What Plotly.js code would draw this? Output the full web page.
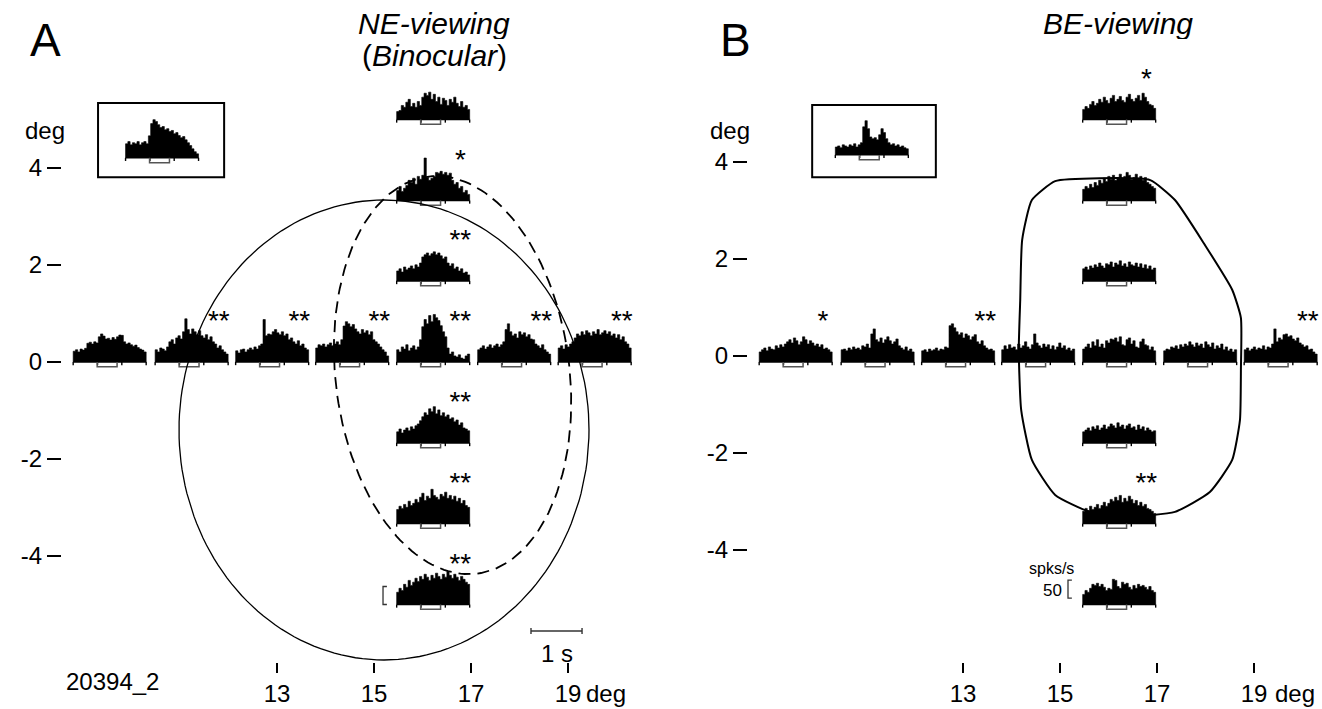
<!DOCTYPE html>
<html><head><meta charset="utf-8">
<script src="https://cdn.plot.ly/plotly-3.0.1.min.js"></script>
<style>html,body{margin:0;padding:0;background:#fff}</style>
</head><body><div id="chart" style="width:1322px;height:709px"></div>
<script>
// ---------------- DATA ----------------
// stimulus positions (deg)
const rowPosDeg = [9.55, 11.24, 12.9, 14.55, 16.22, 17.89, 19.55]; // along y = 0
const colPosDeg = [5.0, 3.33, 1.67, -1.67, -3.33, -5.0];         // along x = colX
const colXDeg = 16.22;
const xTickVals = [13, 15, 17, 19];
const yTickVals = [-4, -2, 0, 2, 4];
const yTickText = ['-4', '-2', '0', '2', '4'];

// PSTHs, spikes/s, 32 bins each
const neInset = [39,45,36,42,39,45,36,42,45,39,61,95,106,101,92,84,87,78,81,73,76,67,70,62,56,59,50,42,34,25,17,11];
const neRow = [
  [30,34,28,36,33,38,52,55,50,56,53,70,78,72,64,66,61,68,63,70,75,74,56,50,53,48,44,47,40,36,33,28],
  [34,28,39,36,31,42,56,62,50,67,73,64,84,120,90,78,92,84,76,87,73,67,76,62,70,56,50,39,45,34,28,22],
  [31,25,34,36,28,34,39,34,42,36,45,50,118,73,78,76,84,90,81,76,84,73,78,62,67,56,50,59,45,50,39,34],
  [39,48,45,50,42,48,53,45,50,56,48,62,100,112,106,98,104,92,84,78,90,81,87,76,84,62,56,50,42,34,28,17],
  [34,28,42,36,48,31,39,45,34,42,62,98,118,106,129,112,132,123,115,101,84,70,39,22,28,17,14,20,11,8,17,22],
  [34,39,45,36,42,48,39,45,50,42,48,56,90,106,84,73,78,67,84,76,81,70,76,64,62,50,45,39,48,34,28,22],
  [39,45,36,48,42,50,56,67,78,73,84,76,87,81,73,84,78,90,76,81,87,78,84,73,78,67,76,62,70,56,50,39]
];
const neCol = [
  [22,25,39,34,48,56,36,45,34,50,39,62,73,67,76,56,70,50,62,42,59,53,39,56,48,62,45,36,50,34,39,28],
  [28,39,25,34,42,56,50,62,45,67,59,70,118,64,56,62,67,78,76,81,73,78,70,76,56,45,50,34,39,22,28,17],
  [28,34,25,39,31,36,42,34,45,39,50,67,73,78,70,76,81,73,78,70,62,67,50,42,48,34,39,28,34,22,25,17],
  [31,39,28,36,42,34,45,39,48,53,62,73,84,78,95,87,101,81,92,76,84,73,78,67,70,59,64,50,56,42,39,34],
  [39,48,42,53,45,62,50,56,67,59,73,84,64,76,70,95,78,73,67,81,76,87,70,78,67,76,62,70,56,64,50,45],
  [34,45,39,56,48,67,53,62,73,64,78,70,84,76,67,81,73,87,78,70,84,76,92,81,73,84,76,67,78,70,62,56]
];
const beInset = [22,25,20,28,25,22,28,25,31,22,28,34,78,95,73,50,45,48,42,56,73,62,45,34,28,31,25,28,22,25,20,17];
const beRow = [
  [28,34,39,31,42,36,34,45,39,48,42,50,56,62,53,67,59,48,56,70,62,50,59,53,45,50,42,48,36,39,34,28],
  [34,36,31,39,34,42,36,39,34,45,42,50,39,78,92,62,56,67,53,62,70,59,50,56,64,45,39,34,42,31,36,28],
  [31,34,28,36,31,34,39,31,36,34,42,39,101,106,95,84,76,81,67,78,73,62,70,76,56,50,59,45,39,34,36,31],
  [34,45,36,48,39,42,34,50,39,45,56,42,36,48,78,53,45,39,50,42,48,36,45,34,42,53,39,45,34,39,31,36],
  [36,42,50,39,56,45,62,42,50,39,59,53,64,62,67,56,70,48,45,62,67,50,59,42,39,56,64,48,45,34,42,31],
  [31,36,34,42,39,45,36,48,42,50,45,56,48,42,53,45,50,39,56,48,42,53,36,45,39,50,34,42,31,36,28,34],
  [34,39,31,36,42,34,39,36,45,34,42,39,50,92,56,67,62,76,78,70,73,64,59,67,53,48,42,45,34,36,28,22]
];
const beCol = [
  [28,36,31,42,50,39,45,56,48,62,53,45,59,67,50,56,64,53,48,62,70,56,50,59,67,53,73,62,50,42,39,31],
  [31,39,34,45,36,50,42,56,48,62,53,67,59,70,56,64,73,62,67,78,70,59,64,73,62,67,56,64,50,45,39,34],
  [34,39,31,42,36,45,39,50,42,36,48,45,53,39,50,45,56,42,48,39,53,45,42,50,39,48,36,45,34,42,31,36],
  [31,36,42,34,45,39,48,36,42,50,39,45,53,48,42,56,45,50,39,48,53,42,45,36,50,39,45,34,42,36,31,34],
  [34,42,36,48,39,45,53,42,50,59,48,56,67,62,73,64,78,59,70,62,76,67,56,64,50,59,48,53,42,39,34,28],
  [28,39,34,45,56,53,59,50,56,48,39,45,42,70,67,50,45,62,56,59,48,42,53,45,56,50,53,48,42,50,39,34]
];
// significance marks
const neRowSig = ['', '**', '**', '**', '**', '**', '**'];
const neColSig = ['', '*', '**', '**', '**', '**'];
const beRowSig = ['*', '', '**', '', '', '', '**'];
const beColSig = ['*', '', '', '', '**', ''];
// insets: [center x, baseline y] and box [x0, x1, y0, y1] in deg
const neInsetPos = [10.63, 4.21];
const beInsetPos = [11.12, 4.27];
const neInsetBox = [9.31, 11.91, 3.81, 5.34];
const beInsetBox = [9.89, 12.44, 3.81, 5.30];
// receptive field outlines
const neSolidRF = [15.206, -1.402, 4.227, 4.742, 0];     // cx, cy, rx, ry, tilt(deg)
const neDashedRF = [16.62, -0.27, 2.412, 4.124, 7];      // cx, cy, rx, ry, tilt(deg)
const beOutlineX = [14.18,14.22,14.42,14.90,15.82,16.86,17.37,17.99,18.55,18.73,18.73,18.71,18.55,18.09,17.37,16.44,15.62,14.90,14.42,14.20,14.15,14.18];
const beOutlineY = [1.28,2.52,3.34,3.73,3.79,3.75,3.34,2.41,1.49,0.91,-0.17,-1.20,-2.02,-2.68,-3.09,-3.18,-3.09,-2.74,-2.02,-0.99,0.25,1.28];
// scale bars
const timeBar = [18.237, -5.546, 1];       // x0, y, seconds
const rateBarNE = [15.186, -5.0, 50];      // x, y0, spikes/s
const rateBarBE = [15.165, -4.87, 50];

// ---------------- GEOMETRY CONSTANTS ----------------
const DEG_PER_SPK = 0.36 / 48.5;
const HIST_DUR = 1.43;
const DEG_PER_SEC = 1.505 / 1.43;
const BASE_TICKS = [0, 0.477, 0.953, 1.43];
const STIM_ON = [0.47, 0.86];

function histTraces(list, xa, ya) {
  const fx = [], fy = [], bx = [], by = [], sx = [], sy = [], tx = [], ty = [], tt = [];
  const w = HIST_DUR * DEG_PER_SEC;
  list.forEach(h => {
    const n = h.rates.length, bw = w / n, x0 = h.cx - w / 2, b = h.base;
    fx.push(x0); fy.push(b);
    h.rates.forEach((r, i) => {
      const top = b + r * DEG_PER_SPK;
      fx.push(x0 + i * bw, x0 + (i + 1) * bw); fy.push(top, top);
    });
    fx.push(x0 + w, null); fy.push(b, null);
    bx.push(x0, x0 + w, null); by.push(b, b, null);
    BASE_TICKS.forEach(t => { const xx = x0 + t * DEG_PER_SEC; bx.push(xx, xx, null); by.push(b, b - 0.065, null); });
    const s0 = x0 + STIM_ON[0] * DEG_PER_SEC, s1 = x0 + STIM_ON[1] * DEG_PER_SEC;
    sx.push(s0, s0, s1, s1, null); sy.push(b, b - 0.1, b - 0.1, b, null);
    if (h.sig) { tx.push(h.cx + 0.56); ty.push(b + 0.8); tt.push(h.sig); }
  });
  const common = {xaxis: xa, yaxis: ya, hoverinfo: 'skip', cliponaxis: false, showlegend: false};
  return [
    Object.assign({type: 'scatter', mode: 'lines', x: fx, y: fy, fill: 'toself', fillcolor: '#000', line: {color: '#000', width: 0.6}}, common),
    Object.assign({type: 'scatter', mode: 'lines', x: bx, y: by, line: {color: '#000', width: 1.4}}, common),
    Object.assign({type: 'scatter', mode: 'lines', x: sx, y: sy, line: {color: '#555', width: 1.5}}, common),
    Object.assign({type: 'scatter', mode: 'text', x: tx, y: ty, text: tt, textposition: 'middle center', textfont: {size: 28, color: '#000', family: 'Liberation Sans, Arial, sans-serif'}}, common)
  ];
}

function ellipse(p, xa, ya, dash, width) {
  const [cx, cy, rx, ry, tilt] = p, th = tilt * Math.PI / 180;
  const xs = [], ys = [];
  for (let k = 0; k <= 180; k++) {
    const t = 2 * Math.PI * k / 180;
    const ex = rx * Math.cos(t), ey = ry * Math.sin(t);
    xs.push(cx + ex * Math.cos(th) - ey * Math.sin(th));
    ys.push(cy + ex * Math.sin(th) + ey * Math.cos(th));
  }
  return {type: 'scatter', mode: 'lines', x: xs, y: ys, xaxis: xa, yaxis: ya, line: {color: '#000', width: width, dash: dash}, hoverinfo: 'skip', cliponaxis: false};
}

const neList = rowPosDeg.map((x, i) => ({cx: x, base: 0, rates: neRow[i], sig: neRowSig[i]}))
  .concat(colPosDeg.map((y, i) => ({cx: colXDeg, base: y, rates: neCol[i], sig: neColSig[i]})))
  .concat([{cx: neInsetPos[0], base: neInsetPos[1], rates: neInset, sig: ''}]);
const beList = rowPosDeg.map((x, i) => ({cx: x, base: 0, rates: beRow[i], sig: beRowSig[i]}))
  .concat(colPosDeg.map((y, i) => ({cx: colXDeg, base: y, rates: beCol[i], sig: beColSig[i]})))
  .concat([{cx: beInsetPos[0], base: beInsetPos[1], rates: beInset, sig: ''}]);

function rateBar(r, xa, ya) {
  const [x, y0, v] = r, y1 = y0 + v * DEG_PER_SPK;
  return {type: 'scatter', mode: 'lines', x: [x + 0.08, x, x, x + 0.08], y: [y0, y0, y1, y1], xaxis: xa, yaxis: ya, line: {color: '#333', width: 1.3}, hoverinfo: 'skip', cliponaxis: false};
}
const tb = timeBar, tbx1 = tb[0] + tb[2] * DEG_PER_SEC;

const traces = []
  .concat(histTraces(neList, 'x', 'y'))
  .concat(histTraces(beList, 'x2', 'y2'))
  .concat([
    ellipse(neSolidRF, 'x', 'y', 'solid', 1.3),
    ellipse(neDashedRF, 'x', 'y', '12px,7px', 1.8),
    {type: 'scatter', mode: 'lines', x: beOutlineX, y: beOutlineY, xaxis: 'x2', yaxis: 'y2', line: {color: '#000', width: 2, shape: 'spline', smoothing: 0.5}, hoverinfo: 'skip', cliponaxis: false},
    rateBar(rateBarNE, 'x', 'y'),
    rateBar(rateBarBE, 'x2', 'y2'),
    {type: 'scatter', mode: 'lines', x: [tb[0], tb[0], null, tb[0], tbx1, null, tbx1, tbx1], y: [tb[1] - 0.06, tb[1] + 0.06, null, tb[1], tb[1], null, tb[1] - 0.06, tb[1] + 0.06], xaxis: 'x', yaxis: 'y', line: {color: '#333', width: 1.4}, hoverinfo: 'skip', cliponaxis: false},
    {type: 'scatter', mode: 'markers', x: [10], y: [0], xaxis: 'x2', yaxis: 'y3', marker: {opacity: 0}, hoverinfo: 'skip'}
  ]);

const W = 1322, H = 709;
const px = v => v / W, py = v => 1 - v / H;
const FONT = 'Liberation Sans, Arial, Helvetica, sans-serif';
const BOTTOM = 662, TOP = 70;
const yDom = [py(BOTTOM), py(TOP)];
const yRange = [(362 - BOTTOM) / 48.5, (362 - TOP) / 48.5];
const xAx = (dom, rng, anchor) => ({domain: dom, range: rng, anchor: anchor, tickvals: xTickVals, ticktext: xTickVals.map(String),
  ticks: 'outside', ticklen: 10, tickwidth: 1.3, tickcolor: '#000', showgrid: false, zeroline: false, showline: false,
  tickfont: {size: 24, family: FONT, color: '#000'}, fixedrange: true});
const yAx = (rng, anchor) => ({domain: yDom, range: rng, anchor: anchor, tickvals: yTickVals, ticktext: yTickText,
  ticks: 'outside', ticklen: 14, tickwidth: 1.3, tickcolor: '#000', showgrid: false, zeroline: false, showline: false,
  tickfont: {size: 24, family: FONT, color: '#000'}, fixedrange: true});

function ann(text, x, y, size, extra) {
  return Object.assign({text: text, x: px(x), y: py(y), xref: 'paper', yref: 'paper', showarrow: false,
    xanchor: 'center', yanchor: 'middle', font: {size: size, family: FONT, color: '#000'}}, extra || {});
}

const layout = {
  width: W, height: H, margin: {l: 0, r: 0, t: 0, b: 0},
  paper_bgcolor: '#fff', plot_bgcolor: 'rgba(0,0,0,0)', showlegend: false,
  font: {family: FONT, color: '#000'},
  xaxis: xAx([px(62), px(640)], [13 + (62 - 277) / 48.5, 13 + (640 - 277) / 48.5], 'y'),
  yaxis: yAx(yRange, 'x'),
  xaxis2: xAx([px(748), 1], [13 + (748 - 963) / 48.5, 13 + (1322 - 963) / 48.5], 'y2'),
  yaxis2: Object.assign(yAx(yRange, 'x2'), {visible: false}),
  yaxis3: Object.assign(yAx([(356 - BOTTOM) / 48.5, (356 - TOP) / 48.5], 'x2'), {overlaying: 'y2', side: 'left'}),
  shapes: [
    {type: 'rect', xref: 'x', yref: 'y', x0: neInsetBox[0], x1: neInsetBox[1], y0: neInsetBox[2], y1: neInsetBox[3], line: {color: '#000', width: 2}},
    {type: 'rect', xref: 'x2', yref: 'y2', x0: beInsetBox[0], x1: beInsetBox[1], y0: beInsetBox[2], y1: beInsetBox[3], line: {color: '#000', width: 2}}
  ],
  annotations: [
    ann('A', 45, 40, 46),
    ann('B', 735, 40, 46),
    ann('<i>NE-viewing</i>', 434, 23, 30, {height: 32, valign: 'middle'}),
    ann('(<i>Binocular</i>)', 434, 55, 30, {height: 32, valign: 'middle'}),
    ann('<i>BE-viewing</i>', 1118, 23, 30, {height: 32, valign: 'middle'}),
    ann('deg', 45, 131, 24),
    ann('deg', 730, 131, 24),
    ann('20394_2', 112, 681, 24),
    ann('deg', 606, 693, 24),
    ann('deg', 1295, 693, 24),
    ann('1 s', 557, 653, 24),
    ann('spks/s', 1051, 568, 16),
    ann('50', 1052, 590, 17)
  ]
};

Plotly.newPlot('chart', traces, layout, {displayModeBar: false, staticPlot: true});
</script></body></html>
